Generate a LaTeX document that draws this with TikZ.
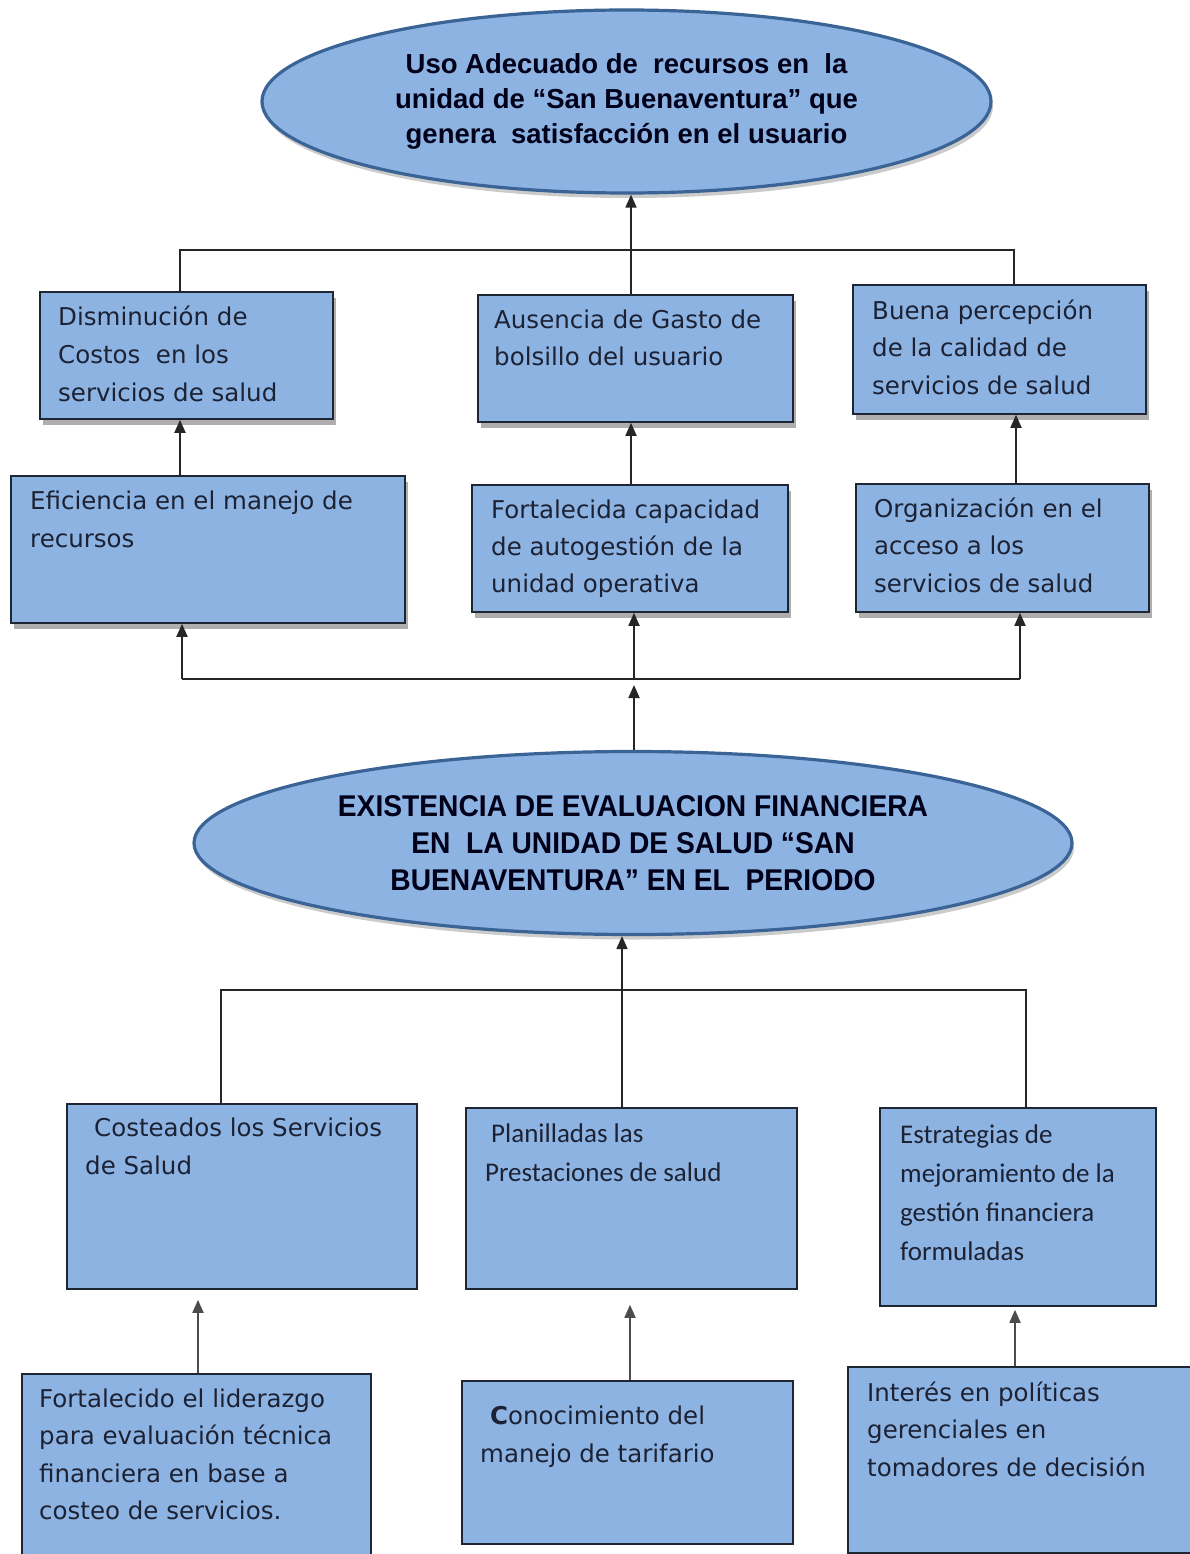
\documentclass[tikz,border=0pt]{standalone}
\usepackage{fontspec}
\setmainfont{DejaVu Sans}
\newfontfamily\hdfont{Liberation Sans}
\newfontfamily\hdfontn{Liberation Sans}[FakeStretch=0.94]
\newfontfamily\calfont{Carlito}
\usetikzlibrary{shapes.geometric,arrows.meta,shadows}
\definecolor{boxfill}{HTML}{8DB3E2}
\definecolor{boxline}{HTML}{1F2633}
\definecolor{ellline}{HTML}{3A6396}
\definecolor{txtcol}{HTML}{1C2233}
\definecolor{shadowc}{HTML}{8C8C8C}
\newcommand\firstln{\rule{0pt}{21pt}}
\tikzset{
  goalbox/.style={draw=boxline, line width=1.8pt, fill=boxfill, inner sep=0pt, anchor=north west},
  shbox/.style={goalbox, drop shadow={shadow xshift=3pt, shadow yshift=-6pt, fill=shadowc, opacity=0.7}},
  oval/.style={ellipse, draw=ellline, line width=3.2pt, fill=boxfill, inner sep=0pt, align=center, text=black!90!blue,
     drop shadow={shadow xshift=2pt, shadow yshift=-5pt, fill=shadowc, opacity=0.45}},
  btxt/.style={font=\fontsize{24.5}{38}\selectfont, align=left, inner sep=0pt, anchor=north west, text=txtcol},
  ctxt/.style={font=\calfont\fontsize{27}{39}\selectfont, align=left, inner sep=0pt, anchor=north west, text=txtcol},
  conn/.style={line width=1.8pt, draw=black!85},
  arr/.style={conn, -{Triangle[length=13pt,width=11pt]}},
}
\begin{document}
\begin{tikzpicture}[x=1pt,y=-1pt]
\useasboundingbox (0,0) rectangle (1190,1554);
\fill[white] (0,0) rectangle (1190,1554);

% ellipses
\node[oval, minimum width=729, minimum height=183,
  font=\hdfont\bfseries\fontsize{27.5}{35}\selectfont] (top) at (626.5,101.5)
  {Uso Adecuado de\ \ recursos en\ \ la\\unidad de “San Buenaventura” que\\genera\ \ satisfacción en el usuario};
\node[oval, minimum width=878, minimum height=183,
  font=\hdfontn\bfseries\fontsize{30}{37}\selectfont] (mid) at (633,843)
  {EXISTENCIA DE EVALUACION FINANCIERA\\EN\ \ LA UNIDAD DE SALUD “SAN\\BUENAVENTURA” EN EL\ \ PERIODO};

% row 1
\node[shbox, minimum width=293, minimum height=127] (b1) at (39,291) {};
\node[shbox, minimum width=315, minimum height=127] (b2) at (477,294) {};
\node[shbox, minimum width=293, minimum height=129] (b3) at (852,284) {};
% row 2
\node[shbox, minimum width=394, minimum height=147] (e1) at (10,475) {};
\node[shbox, minimum width=316, minimum height=127] (e2) at (471,484) {};
\node[shbox, minimum width=293, minimum height=128] (e3) at (855,483) {};
% row 3
\node[goalbox, minimum width=350, minimum height=185] (c1) at (66,1103) {};
\node[goalbox, minimum width=331, minimum height=181] (c2) at (465,1107) {};
\node[goalbox, minimum width=276, minimum height=198] (c3) at (879,1107) {};
% row 4
\node[goalbox, minimum width=349, minimum height=210] (d1) at (21,1373) {};
\node[goalbox, minimum width=331, minimum height=163] (d2) at (461,1380) {};
\node[goalbox, minimum width=360, minimum height=186] (d3) at (847,1366) {};

% texts
\node[btxt] (tb1) at (58,304) {\firstln Disminución de\\Costos\ \ en los\\servicios de salud};
\node[btxt, font=\fontsize{24.5}{37}\selectfont] (tb2) at (494,307) {\firstln Ausencia de Gasto de\\bolsillo del usuario};
\node[btxt, font=\fontsize{24.5}{37.5}\selectfont] (tb3) at (872,298) {\firstln Buena percepción\\de la calidad de\\servicios de salud};
\node[btxt] (te1) at (30,488) {\firstln Eficiencia en el manejo de\\recursos};
\node[btxt, font=\fontsize{24.5}{37}\selectfont] (te2) at (491,497) {\firstln Fortalecida capacidad\\de autogestión de la\\unidad operativa};
\node[btxt, font=\fontsize{24.5}{37.5}\selectfont] (te3) at (874,496) {\firstln Organización en el\\acceso a los\\servicios de salud};
\node[btxt] (tc1) at (85,1115) {\firstln\hspace{9pt}Costeados los Servicios\\de Salud};
\node[ctxt] (tc2) at (485,1121) {\firstln\hspace{6pt}Planilladas las\\Prestaciones de salud};
\node[ctxt] (tc3) at (900,1122) {\firstln Estrategias de\\mejoramiento de la\\gestión financiera\\formuladas};
\node[btxt, font=\fontsize{24.5}{37.5}\selectfont] (td1) at (39,1386) {\firstln Fortalecido el liderazgo\\para evaluación técnica\\financiera en base a\\costeo de servicios.};
\node[btxt] (td2) at (480,1403) {\firstln\hspace{10pt}\textbf{C}onocimiento del\\manejo de tarifario};
\node[btxt, font=\fontsize{24.5}{37.5}\selectfont] (td3) at (867,1380) {\firstln Interés en políticas\\gerenciales en\\tomadores de decisión};

% top junction
\coordinate (ha) at (180,250);
\coordinate (hb) at (631,250);
\coordinate (hc) at (1014,250);
\draw[conn] (ha |- b1.north) -- (ha) -- (hc) -- (hc |- b3.north);
\draw[arr] (hb |- b2.north) -- (hb |- top.south);

% row 2 -> row 1
\coordinate (va) at (180,450);
\coordinate (vb) at (631,450);
\coordinate (vc) at (1016,450);
\draw[arr] (va |- e1.north) -- (va |- b1.south);
\draw[arr] (vb |- e2.north) -- (vb |- b2.south);
\draw[arr] (vc |- e3.north) -- (vc |- b3.south);

% middle junction
\coordinate (ma) at (182,679);
\coordinate (mb) at (634,679);
\coordinate (mc) at (1020,679);
\draw[conn] (ma) -- (mc);
\draw[arr] (ma) -- (ma |- e1.south);
\draw[arr] (mb) -- (mb |- e2.south);
\draw[arr] (mc) -- (mc |- e3.south);
\draw[arr, shorten >=6pt] (mb |- mid.north) -- (mb);

% lower junction
\coordinate (la) at (221,990);
\coordinate (lb) at (622,990);
\coordinate (lc) at (1026,990);
\draw[conn] (la |- c1.north) -- (la) -- (lc) -- (lc |- c3.north);
\draw[conn] (lb |- c2.north) -- (lb);
\draw[arr] (lb) -- (lb |- mid.south);

% row 4 -> row 3
\coordinate (wa) at (198,1340);
\coordinate (wb) at (630,1340);
\coordinate (wc) at (1015,1340);
\draw[arr, draw=black!70, shorten >=10pt] (wa |- d1.north) -- (wa |- c1.south);
\draw[arr, draw=black!70, shorten >=15pt] (wb |- d2.north) -- (wb |- c2.south);
\draw[arr, draw=black!70, shorten >=3pt] (wc |- d3.north) -- (wc |- c3.south);
\end{tikzpicture}
\end{document}
